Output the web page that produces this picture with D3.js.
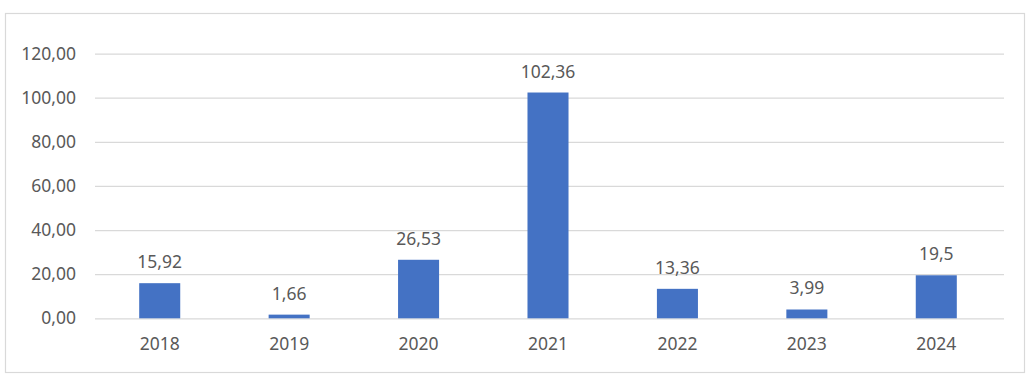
<!DOCTYPE html>
<html><head><meta charset="utf-8">
<script src="https://cdn.jsdelivr.net/npm/d3@7"></script>
<style>body{margin:0;background:#fff;} svg{display:block;}</style>
</head><body>
<svg id="c" width="1035" height="380"></svg>
<script>
const categories = ["2018","2019","2020","2021","2022","2023","2024"];
const values = [15.92, 1.66, 26.53, 102.36, 13.36, 3.99, 19.5];
const valueLabels = ["15,92","1,66","26,53","102,36","13,36","3,99","19,5"];
const yTicks = [0, 20, 40, 60, 80, 100, 120];

const svg = d3.select("#c");
const font = "'Noto Sans', 'Open Sans', sans-serif";
const textColor = "#595959";

svg.append("rect").attr("x",5.5).attr("y",13.5).attr("width",1019).attr("height",359)
  .attr("fill","#fff").attr("stroke","#d9d9d9").attr("stroke-width",1.2);

const x = d3.scaleBand().domain(categories).range([95, 1001]).paddingInner(0.683).paddingOuter(0.3415);
const y = d3.scaleLinear().domain([0, 120]).range([318.3, 53.6]);

const fmt = v => d3.format(".2f")(v).replace(".", ",");

const yAxis = svg.append("g").attr("transform","translate(95,0)")
  .call(d3.axisLeft(y).tickValues(yTicks).tickSize(-909).tickFormat(fmt).tickPadding(19));
yAxis.select(".domain").remove();
yAxis.selectAll(".tick line").attr("stroke","#d9d9d9").attr("stroke-width",1.3);
yAxis.selectAll(".tick text").attr("font-family",font).attr("font-size","17.5px").attr("fill",textColor);

const xAxis = svg.append("g").attr("transform","translate(0,318.3)")
  .call(d3.axisBottom(x).tickSize(0).tickPadding(19));
xAxis.select(".domain").remove();
xAxis.selectAll(".tick text").attr("font-family",font).attr("font-size","17.5px").attr("fill",textColor);

svg.append("g").selectAll("rect").data(values).join("rect")
  .attr("x",(d,i)=>x(categories[i])).attr("width",x.bandwidth())
  .attr("y",d=>y(d)).attr("height",d=>y(0)-y(d)).attr("fill","#4472C4");

svg.append("g").selectAll("text").data(values).join("text")
  .attr("x",(d,i)=>x(categories[i])+x.bandwidth()/2)
  .attr("y",d=>y(d)-15)
  .attr("text-anchor","middle").attr("font-family",font).attr("font-size","17.5px").attr("fill",textColor)
  .text((d,i)=>valueLabels[i]);
</script>
</body></html>
